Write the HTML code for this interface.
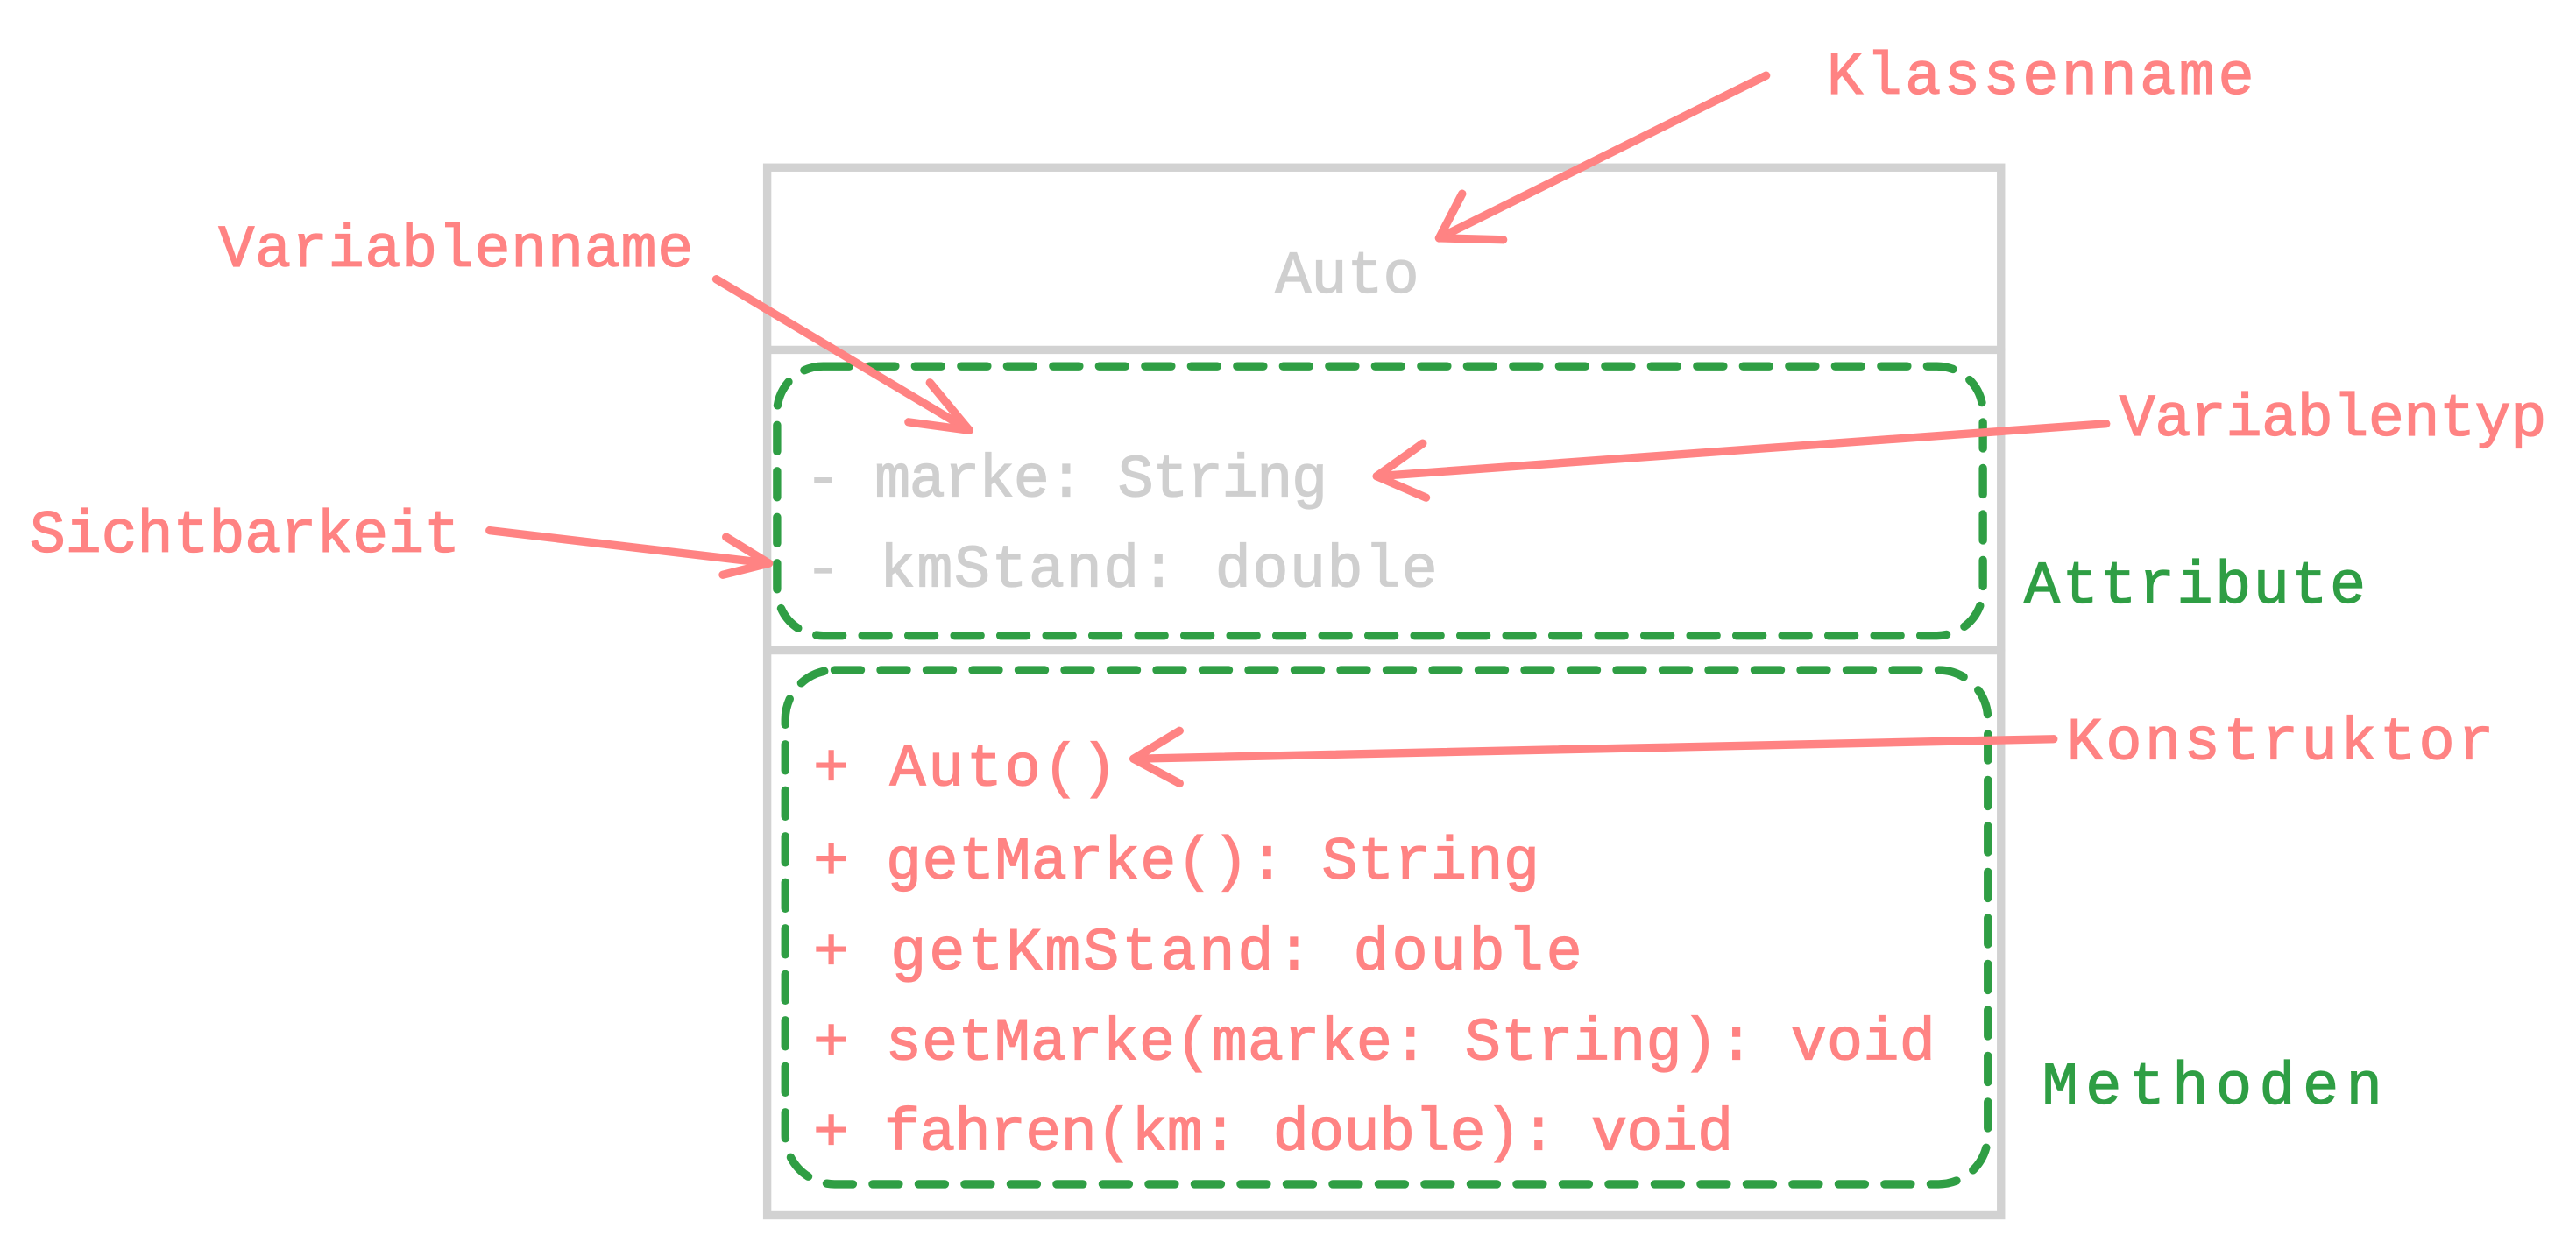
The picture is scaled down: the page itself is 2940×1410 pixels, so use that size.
<!DOCTYPE html>
<html><head><meta charset="utf-8"><style>
html,body{margin:0;padding:0;background:#fff;}
svg{display:block;}
text{font-family:"Liberation Mono",monospace;font-size:36.5px;stroke-width:0.7px;}
</style></head><body>
<svg width="2940" height="1410" viewBox="0 0 1568 752" xmlns="http://www.w3.org/2000/svg">
<rect width="1568" height="752" fill="#fff"/>
<g fill="none" stroke="#d2d2d2" stroke-width="5" stroke-linecap="round">
<rect x="467" y="102" width="751" height="638"/>
<line x1="467" y1="213" x2="1218" y2="213"/>
<line x1="467" y1="396" x2="1218" y2="396"/>
</g>
<g fill="none" stroke="#2f9e44" stroke-width="5" stroke-dasharray="16 12" stroke-linecap="round">
<rect x="473" y="223" width="734" height="164" rx="28"/>
<rect x="478" y="408" width="732" height="313" rx="30"/>
</g>
<g fill="#cfcfcf" stroke="#cfcfcf">
<text x="820" y="178" text-anchor="middle">Auto</text>
<text x="490" y="302" textLength="318">- marke: String</text>
<text x="490" y="357" textLength="385">- kmStand: double</text>
</g>
<g fill="#ff8383" stroke="#ff8383">
<text x="495" y="478" textLength="185">+ Auto()</text>
<text x="495" y="535" textLength="442">+ getMarke(): String</text>
<text x="495" y="590" textLength="468">+ getKmStand: double</text>
<text x="495" y="645" textLength="683">+ setMarke(marke: String): void</text>
<text x="495" y="700" textLength="560">+ fahren(km: double): void</text>
<text x="1112" y="57" textLength="260">Klassenname</text>
<text x="133" y="162" textLength="289">Variablenname</text>
<text x="1290" y="265" textLength="260">Variablentyp</text>
<text x="18" y="336" textLength="262">Sichtbarkeit</text>
<text x="1258" y="462" textLength="260">Konstruktor</text>
</g>
<g fill="#2f9e44" stroke="#2f9e44">
<text x="1232" y="367" textLength="208">Attribute</text>
<text x="1243" y="672" textLength="207">Methoden</text>
</g>
<g fill="none" stroke="#ff8383" stroke-width="5" stroke-linecap="round" stroke-linejoin="round">
<path d="M1075 46 L876 145"/><path d="M890 118 L876 145 L915 146"/>
<path d="M436 170 L590 262"/><path d="M566 233 L590 262 L553 257"/>
<path d="M1282 258 L838 290"/><path d="M866 270 L838 290 L868 303"/>
<path d="M298 323 L468 343"/><path d="M442 327 L468 343 L440 350"/>
<path d="M1250 450 L690 462"/><path d="M718 445 L690 462 L718 477"/>
</g>
</svg>
</body></html>
